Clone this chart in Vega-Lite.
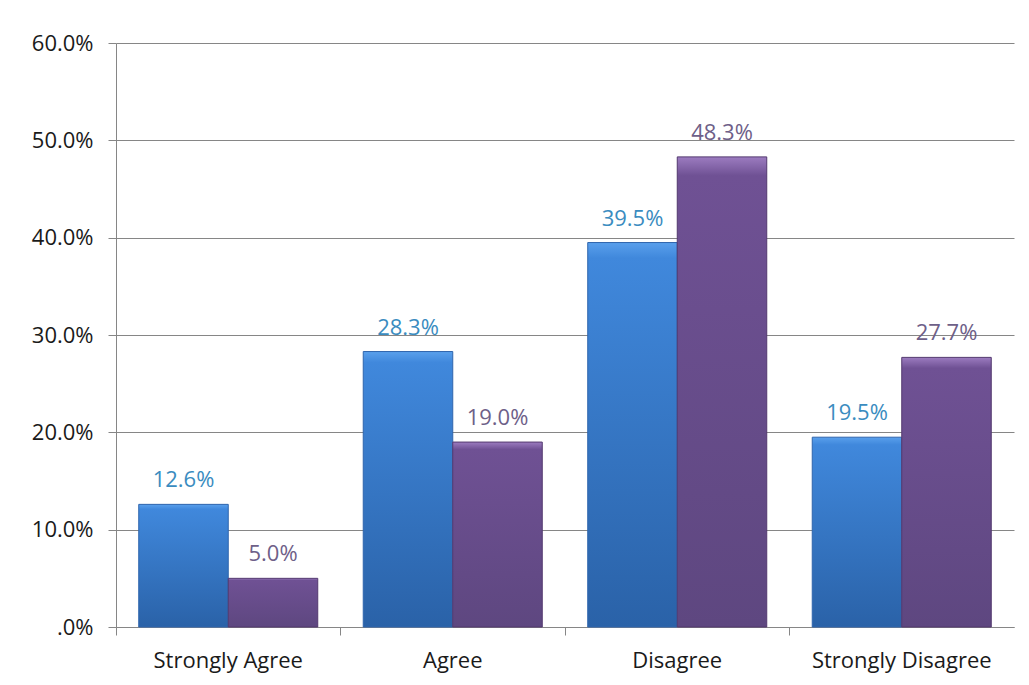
{
  "$schema": "https://vega.github.io/schema/vega-lite/v6.json",
  "autosize": {"type": "none"},
  "width": 898,
  "height": 584,
  "padding": {"left": 116, "top": 43, "right": 15, "bottom": 58},
  "background": "white",
  "data": {
    "values": [
      {"category": "Strongly Agree", "series": "Group 1", "value": 0.126},
      {"category": "Strongly Agree", "series": "Group 2", "value": 0.050},
      {"category": "Agree", "series": "Group 1", "value": 0.283},
      {"category": "Agree", "series": "Group 2", "value": 0.190},
      {"category": "Disagree", "series": "Group 1", "value": 0.395},
      {"category": "Disagree", "series": "Group 2", "value": 0.483},
      {"category": "Strongly Disagree", "series": "Group 1", "value": 0.195},
      {"category": "Strongly Disagree", "series": "Group 2", "value": 0.277}
    ]
  },
  "encoding": {
    "x": {
      "field": "category", "type": "nominal",
      "sort": ["Strongly Agree", "Agree", "Disagree", "Strongly Disagree"],
      "scale": {"paddingInner": 0, "paddingOuter": 0},
      "axis": {
        "title": null, "labelAngle": 0, "bandPosition": 0,
        "labelFont": "Open Sans", "labelFontSize": 22, "labelColor": "#1a1a1a",
        "labelPadding": 15, "tickSize": 8, "tickColor": "#868686",
        "domainColor": "#868686", "grid": false
      }
    },
    "xOffset": {
      "field": "series", "type": "nominal",
      "scale": {"domain": ["Group 1", "Group 2"], "paddingInner": 0, "paddingOuter": 0.254}
    },
    "y": {
      "field": "value", "type": "quantitative",
      "scale": {"domain": [0, 0.6], "nice": false},
      "axis": {
        "title": null, "values": [0, 0.1, 0.2, 0.3, 0.4, 0.5, 0.6],
        "labelExpr": "datum.value == 0 ? '.0%' : format(datum.value, '.1%')",
        "labelFont": "Open Sans", "labelFontSize": 22, "labelColor": "#1a1a1a",
        "labelPadding": 15, "tickSize": 8, "tickColor": "#868686",
        "domainColor": "#868686", "gridColor": "#868686", "gridOpacity": 1
      }
    }
  },
  "layer": [
    {
      "transform": [{"filter": "datum.series == 'Group 1'"}],
      "mark": {
        "type": "bar",
        "fill": {
          "gradient": "linear", "x1": 0, "y1": 0, "x2": 0, "y2": 1,
          "stops": [
            {"offset": 0, "color": "#5aa0ec"},
            {"offset": 0.04, "color": "#4088dc"},
            {"offset": 1, "color": "#2a62a8"}
          ]
        },
        "stroke": "#2f65ad", "strokeWidth": 1
      }
    },
    {
      "transform": [{"filter": "datum.series == 'Group 2'"}],
      "mark": {
        "type": "bar",
        "fill": {
          "gradient": "linear", "x1": 0, "y1": 0, "x2": 0, "y2": 1,
          "stops": [
            {"offset": 0, "color": "#9c7cc0"},
            {"offset": 0.04, "color": "#6f5194"},
            {"offset": 1, "color": "#5e4780"}
          ]
        },
        "stroke": "#53396f", "strokeWidth": 1
      }
    },
    {
      "mark": {"type": "text", "baseline": "alphabetic", "dy": -17, "font": "Open Sans", "fontSize": 22},
      "encoding": {
        "text": {"field": "value", "type": "quantitative", "format": ".1%"},
        "color": {
          "field": "series", "type": "nominal",
          "scale": {"domain": ["Group 1", "Group 2"], "range": ["#3a8cc0", "#6e6088"]},
          "legend": null
        }
      }
    }
  ],
  "config": {"view": {"stroke": null}}
}
